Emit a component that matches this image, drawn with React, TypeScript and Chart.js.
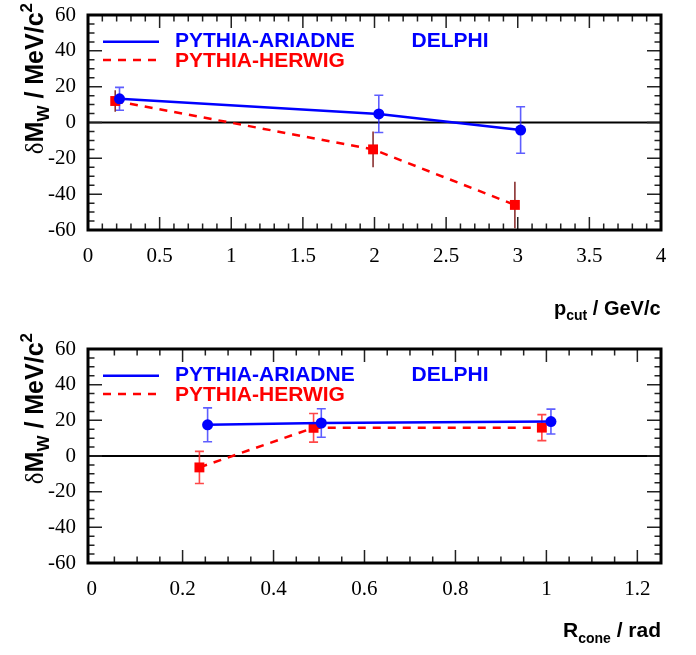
import React, { useEffect, useRef } from "react";
import { Chart, registerables } from "chart.js";

Chart.register(...registerables);

// ---------- data: top panel (p_cut) ----------
const pcutAriadneX = [0.22, 2.03, 3.02];
const pcutAriadneY = [13.2, 4.8, -4.2];
const pcutAriadneErr = [6.4, 10.4, 13];
const pcutHerwigX = [0.19, 1.99, 2.98];
const pcutHerwigY = [12, -15, -46];
const pcutHerwigErr = [6, 10, 13];
const pcutTicks = [0, 0.5, 1, 1.5, 2, 2.5, 3, 3.5, 4];

// ---------- data: bottom panel (R_cone) ----------
const rconeAriadneX = [0.255, 0.505, 1.01];
const rconeAriadneY = [17.5, 18.5, 19.3];
const rconeAriadneErr = [9.5, 8, 7];
const rconeHerwigX = [0.237, 0.488, 0.99];
const rconeHerwigY = [-6.4, 15.8, 15.9];
const rconeHerwigErr = [9, 8, 7.3];
const rconeTicks = [0, 0.2, 0.4, 0.6, 0.8, 1, 1.2];

const yTicks = [-60, -40, -20, 0, 20, 40, 60];

const legendAriadne = "PYTHIA-ARIADNE";
const legendHerwig = "PYTHIA-HERWIG";
const experiment = "DELPHI";

const SANS = '"Liberation Sans", Arial, sans-serif';
const SERIF = '"Liberation Serif", "Times New Roman", serif';

type Part = { t: string; font: string; dy?: number };

function richWidth(ctx: CanvasRenderingContext2D, parts: Part[]) {
  let w = 0;
  for (const p of parts) {
    ctx.font = p.font;
    w += ctx.measureText(p.t).width;
  }
  return w;
}
function drawRich(ctx: CanvasRenderingContext2D, parts: Part[], x: number, y: number) {
  let cx = x;
  for (const p of parts) {
    ctx.font = p.font;
    ctx.fillText(p.t, cx, y + (p.dy || 0));
    cx += ctx.measureText(p.t).width;
  }
}

const YS = 25;
const yTitle: Part[] = [
  { t: "δ", font: `${YS}px ${SERIF}` },
  { t: "M", font: `bold ${YS}px ${SANS}` },
  { t: "W", font: `bold ${Math.round(YS * 0.68)}px ${SANS}`, dy: 6 },
  { t: " / MeV/c", font: `bold ${YS}px ${SANS}` },
  { t: "2", font: `bold ${Math.round(YS * 0.68)}px ${SANS}`, dy: -11 },
];

const XS = 20;
const pcutTitle: Part[] = [
  { t: "p", font: `bold ${XS}px ${SANS}` },
  { t: "cut", font: `bold ${Math.round(XS * 0.7)}px ${SANS}`, dy: 5 },
  { t: " / GeV/c", font: `bold ${XS}px ${SANS}` },
];
const rconeTitle: Part[] = [
  { t: "R", font: `bold ${XS + 1}px ${SANS}` },
  { t: "cone", font: `bold ${Math.round(XS * 0.72)}px ${SANS}`, dy: 6 },
  { t: " / rad", font: `bold ${XS + 1}px ${SANS}` },
];

type Panel = {
  ax: number[]; ay: number[]; ae: number[];
  hx: number[]; hy: number[]; he: number[];
  xMin: number; xMax: number; xTicks: number[];
  xMajor: number; xMinor: number;
  herwigErrColor: string; herwigErrCap: boolean;
  height: number; padTop: number; xAxisH: number;
  xTitle: Part[]; xTitleX: number; xTitleBase: number;
};

const topPanel: Panel = {
  ax: pcutAriadneX, ay: pcutAriadneY, ae: pcutAriadneErr,
  hx: pcutHerwigX, hy: pcutHerwigY, he: pcutHerwigErr,
  xMin: 0, xMax: 4, xTicks: pcutTicks, xMajor: 0.5, xMinor: 0.1,
  herwigErrColor: "#8a3030", herwigErrCap: false,
  height: 330, padTop: 15, xAxisH: 100,
  xTitle: pcutTitle, xTitleX: 554, xTitleBase: 315,
};
const bottomPanel: Panel = {
  ax: rconeAriadneX, ay: rconeAriadneY, ae: rconeAriadneErr,
  hx: rconeHerwigX, hy: rconeHerwigY, he: rconeHerwigErr,
  xMin: -0.008, xMax: 1.252, xTicks: rconeTicks, xMajor: 0.2, xMinor: 0.05,
  herwigErrColor: "rgba(255,40,40,0.85)", herwigErrCap: true,
  height: 325, padTop: 19, xAxisH: 92,
  xTitle: rconeTitle, xTitleX: 563, xTitleBase: 307,
};

function makePlugin(p: Panel) {
  return {
    id: "rootStyle",
    beforeDatasetsDraw(chart: any) {
      const { ctx, chartArea: a, scales } = chart;
      const ys = scales.y;
      ctx.save();
      const y0 = ys.getPixelForValue(0);
      ctx.strokeStyle = "#000";
      ctx.lineWidth = 2;
      ctx.beginPath();
      ctx.moveTo(a.left, y0);
      ctx.lineTo(a.right, y0);
      ctx.stroke();
      chart.data.datasets.forEach((ds: any, di: number) => {
        const meta = chart.getDatasetMeta(di);
        ctx.strokeStyle = ds.errColor;
        ctx.lineWidth = 1.6;
        meta.data.forEach((pt: any, i: number) => {
          const v = ds.data[i].y;
          const e = ds.errors[i];
          const yt = Math.max(a.top, ys.getPixelForValue(v + e));
          const yb = Math.min(a.bottom, ys.getPixelForValue(v - e));
          ctx.beginPath();
          ctx.moveTo(pt.x, yt);
          ctx.lineTo(pt.x, yb);
          if (ds.errCap) {
            ctx.moveTo(pt.x - 4.5, yt);
            ctx.lineTo(pt.x + 4.5, yt);
            ctx.moveTo(pt.x - 4.5, yb);
            ctx.lineTo(pt.x + 4.5, yb);
          }
          ctx.stroke();
        });
      });
      ctx.restore();
    },
    afterDraw(chart: any) {
      const { ctx, chartArea: a, scales } = chart;
      const xs = scales.x, ys = scales.y;
      ctx.save();
      // ticks on all four sides
      ctx.strokeStyle = "#222";
      ctx.lineWidth = 1.5;
      ctx.beginPath();
      const nx = Math.round((p.xMax - p.xMin) / p.xMinor) + 2;
      const startX = Math.ceil(p.xMin / p.xMinor - 1e-6);
      for (let k = startX; k < startX + nx; k++) {
        const v = k * p.xMinor;
        const px = xs.getPixelForValue(v);
        if (px < a.left + 4 || px > a.right - 4) continue;
        const major = Math.abs(v / p.xMajor - Math.round(v / p.xMajor)) < 1e-6;
        const L = major ? 13 : 6.5;
        ctx.moveTo(px, a.bottom);
        ctx.lineTo(px, a.bottom - L);
        ctx.moveTo(px, a.top);
        ctx.lineTo(px, a.top + L);
      }
      for (let v = -60; v <= 60; v += 5) {
        const py = ys.getPixelForValue(v);
        if (py < a.top + 4 || py > a.bottom - 4) continue;
        const major = v % 20 === 0;
        const L = major ? 14 : 6.5;
        ctx.moveTo(a.left, py);
        ctx.lineTo(a.left + L, py);
        ctx.moveTo(a.right, py);
        ctx.lineTo(a.right - L, py);
      }
      ctx.stroke();
      // frame
      ctx.strokeStyle = "#000";
      ctx.lineWidth = 3;
      ctx.strokeRect(a.left, a.top, a.right - a.left, a.bottom - a.top);

      // legend
      const lx = a.left + 15;
      ctx.lineWidth = 2.5;
      ctx.strokeStyle = "#0000ff";
      ctx.beginPath();
      ctx.moveTo(lx, a.top + 26.7);
      ctx.lineTo(lx + 56, a.top + 26.7);
      ctx.stroke();
      ctx.strokeStyle = "#ff0000";
      ctx.setLineDash([8, 7]);
      ctx.beginPath();
      ctx.moveTo(lx, a.top + 45);
      ctx.lineTo(lx + 56, a.top + 45);
      ctx.stroke();
      ctx.setLineDash([]);
      ctx.textBaseline = "alphabetic";
      ctx.textAlign = "left";
      ctx.font = `bold 21px ${SANS}`;
      ctx.fillStyle = "#0000ff";
      ctx.fillText(legendAriadne, a.left + 87, a.top + 32);
      ctx.fillText(experiment, a.left + 323.5, a.top + 32);
      ctx.fillStyle = "#ff0000";
      ctx.fillText(legendHerwig, a.left + 87, a.top + 52);

      // axis titles
      ctx.fillStyle = "#000";
      drawRich(ctx, p.xTitle, p.xTitleX, p.xTitleBase);
      const w = richWidth(ctx, yTitle);
      ctx.translate(43, 3 + w);
      ctx.rotate(-Math.PI / 2);
      drawRich(ctx, yTitle, 0, 0);
      ctx.restore();
    },
  };
}

function buildConfig(p: Panel): any {
  return {
    type: "line",
    data: {
      datasets: [
        {
          label: legendAriadne,
          data: p.ax.map((x, i) => ({ x, y: p.ay[i] })),
          errors: p.ae,
          errColor: "rgba(40,40,255,0.75)",
          errCap: true,
          borderColor: "#0000ff",
          backgroundColor: "#0000ff",
          borderWidth: 2.5,
          pointStyle: "circle",
          pointRadius: 5.5,
          pointBorderWidth: 0,
          tension: 0,
        },
        {
          label: legendHerwig,
          data: p.hx.map((x, i) => ({ x, y: p.hy[i] })),
          errors: p.he,
          errColor: p.herwigErrColor,
          errCap: p.herwigErrCap,
          borderColor: "#ff0000",
          backgroundColor: "#ff0000",
          borderWidth: 2.5,
          borderDash: [8, 7],
          pointStyle: "rect",
          pointRadius: 7,
          pointBorderWidth: 0,
          tension: 0,
        },
      ],
    },
    options: {
      animation: false,
      responsive: false,
      maintainAspectRatio: false,
      layout: { autoPadding: false, padding: { left: 0, right: 35, top: p.padTop, bottom: 0 } },
      plugins: { legend: { display: false }, tooltip: { enabled: false } },
      scales: {
        x: {
          type: "linear",
          min: p.xMin,
          max: p.xMax,
          afterBuildTicks: (s: any) => {
            s.ticks = p.xTicks.map((v) => ({ value: v }));
          },
          afterFit: (s: any) => {
            s.height = p.xAxisH;
            s.paddingLeft = 0;
            s.paddingRight = 0;
            s.paddingTop = 0;
            s.paddingBottom = 0;
          },
          grid: { display: false, drawTicks: false },
          border: { display: false },
          ticks: {
            autoSkip: false,
            maxRotation: 0,
            padding: 14,
            color: "#000",
            font: { family: SERIF, size: 21 },
            callback: (v: number) => String(v),
          },
        },
        y: {
          type: "linear",
          min: -60,
          max: 60,
          afterBuildTicks: (s: any) => {
            s.ticks = yTicks.map((v) => ({ value: v }));
          },
          afterFit: (s: any) => {
            s.width = 88;
            s.paddingTop = 0;
            s.paddingBottom = 0;
            s.paddingLeft = 0;
            s.paddingRight = 0;
          },
          grid: { display: false, drawTicks: false },
          border: { display: false },
          ticks: {
            padding: 12,
            color: "#000",
            font: { family: SERIF, size: 21 },
            callback: (v: number) => String(v),
          },
        },
      },
    },
    plugins: [makePlugin(p)],
  };
}

export default function App() {
  const r1 = useRef<HTMLCanvasElement>(null);
  const r2 = useRef<HTMLCanvasElement>(null);
  useEffect(() => {
    const c1 = new Chart(r1.current as HTMLCanvasElement, buildConfig(topPanel));
    const c2 = new Chart(r2.current as HTMLCanvasElement, buildConfig(bottomPanel));
    return () => {
      c1.destroy();
      c2.destroy();
    };
  }, []);
  return (
    <div style={{ position: "absolute", left: 0, top: 0, width: 696, height: 655, background: "#fff" }}>
      <canvas ref={r1} width={696} height={330} style={{ display: "block", width: 696, height: 330 }} />
      <canvas ref={r2} width={696} height={325} style={{ display: "block", width: 696, height: 325 }} />
    </div>
  );
}
